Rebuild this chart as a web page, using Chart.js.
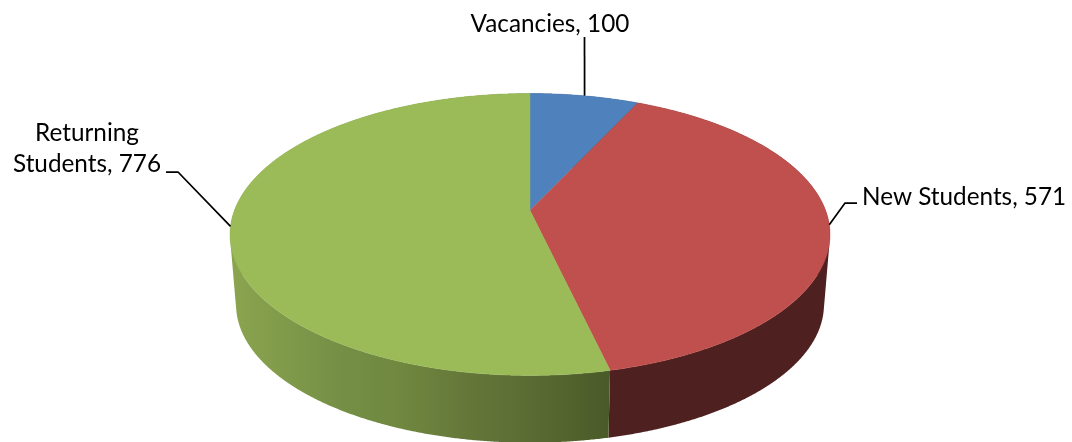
<!DOCTYPE html>
<html>
<head>
<meta charset="utf-8">
<title>Students</title>
<style>
html, body { margin: 0; padding: 0; background: #fff; overflow: hidden; }
canvas { display: block; }
</style>
</head>
<body>
<canvas id="pieChart" width="1072" height="442"></canvas>
<script src="https://cdn.jsdelivr.net/npm/chart.js@4/dist/chart.umd.min.js"></script>
<script>
const categories = ['Vacancies', 'New Students', 'Returning Students'];
const values = [100, 571, 776];
const sliceColors = ['#4f81bd', '#c0504d', '#9bbb59'];

// the pie is tilted with some perspective, so the hub sits above the middle of the ellipse
const topDisc = { cx: 530, cy: 210.5, rx: 295.6, ry: 136.9, k: 0.17 };
const bottomDisc = { cx: 530, cy: 281, rx: 289.7, ry: 134.2, k: 0.17 };

function project(disc, angle) {
    const w = 1 - disc.k * Math.sin(angle);
    return {
        x: disc.cx + disc.rx * Math.cos(angle) / w,
        y: disc.cy + disc.ry * Math.sin(angle) / w
    };
}

function rimPoints(disc, start, end) {
    const steps = Math.max(2, Math.ceil((end - start) / 0.005));
    const pts = [];
    for (let i = 0; i <= steps; i++) {
        pts.push(project(disc, start + (end - start) * i / steps));
    }
    return pts;
}

function wallFill(ctx, index) {
    if (index === 2) {
        const g = ctx.createLinearGradient(232, 0, 610, 0);
        g.addColorStop(0, '#8aa44f');
        g.addColorStop(0.3, '#748f45');
        g.addColorStop(0.45, '#70873f');
        g.addColorStop(0.6, '#66793a');
        g.addColorStop(0.8, '#596b32');
        g.addColorStop(1, '#4a5a28');
        return g;
    }
    return index === 1 ? '#4e201f' : '#2a4565';
}

// one path per wall, every quad wound the same way so they do not cancel or leave seams
function addQuad(ctx, q) {
    let area = 0;
    q.forEach((p, i) => {
        const n = q[(i + 1) % 4];
        area += p.x * n.y - n.x * p.y;
    });
    const pts = area < 0 ? q.slice().reverse() : q;
    pts.forEach((p, i) => i ? ctx.lineTo(p.x, p.y) : ctx.moveTo(p.x, p.y));
    ctx.closePath();
}

// leader lines: elbow and end point, text anchor for each category
const leaders = [
    { via: [], end: [584.5, 37], lines: ['Vacancies, 100'], x: 550, y: 32, align: 'center' },
    { via: [[845, 203]], end: [857, 203], lines: ['New Students, 571'], x: 862, y: 205, align: 'left' },
    { via: [[178, 172]], end: [166, 172], lines: ['Returning', 'Students, 776'], x: 87, y: 141, align: 'center' }
];

const pie3d = {
    id: 'pie3d',
    beforeDatasetsDraw(chart) {
        const ctx = chart.ctx;
        const arcs = chart.getDatasetMeta(0).data;
        ctx.save();

        // side wall first, the top face covers the back of it
        arcs.forEach((arc, i) => {
            const top = rimPoints(topDisc, arc.startAngle, arc.endAngle);
            const bottom = rimPoints(bottomDisc, arc.startAngle, arc.endAngle);
            ctx.beginPath();
            for (let j = 1; j < top.length; j++) {
                addQuad(ctx, [top[j - 1], top[j], bottom[j], bottom[j - 1]]);
            }
            ctx.fillStyle = wallFill(ctx, i);
            ctx.fill();
        });

        arcs.forEach((arc) => {
            ctx.beginPath();
            ctx.moveTo(topDisc.cx, topDisc.cy);
            rimPoints(topDisc, arc.startAngle, arc.endAngle).forEach(p => ctx.lineTo(p.x, p.y));
            ctx.closePath();
            ctx.fillStyle = arc.options.backgroundColor;
            ctx.strokeStyle = arc.options.backgroundColor;
            ctx.lineWidth = 0.5;
            ctx.fill();
            ctx.stroke();
        });

        // labels
        ctx.strokeStyle = '#000';
        ctx.lineWidth = 1.75;
        ctx.fillStyle = '#000';
        ctx.font = '24.3px Lato';
        ctx.textBaseline = 'alphabetic';
        arcs.forEach((arc, i) => {
            const anchor = project(topDisc, (arc.startAngle + arc.endAngle) / 2);
            const l = leaders[i];
            ctx.beginPath();
            ctx.moveTo(anchor.x, anchor.y);
            l.via.forEach(p => ctx.lineTo(p[0], p[1]));
            ctx.lineTo(l.end[0], l.end[1]);
            ctx.stroke();
            ctx.textAlign = l.align;
            l.lines.forEach((t, n) => ctx.fillText(t, l.x, l.y + n * 31));
        });

        ctx.restore();
        return false;
    }
};

new Chart(document.getElementById('pieChart').getContext('2d'), {
    type: 'pie',
    data: {
        labels: categories,
        datasets: [{
            data: values,
            backgroundColor: sliceColors,
            borderWidth: 0
        }]
    },
    options: {
        responsive: false,
        animation: false,
        plugins: {
            legend: { display: false },
            tooltip: { enabled: false }
        }
    },
    plugins: [pie3d]
});
</script>
</body>
</html>
